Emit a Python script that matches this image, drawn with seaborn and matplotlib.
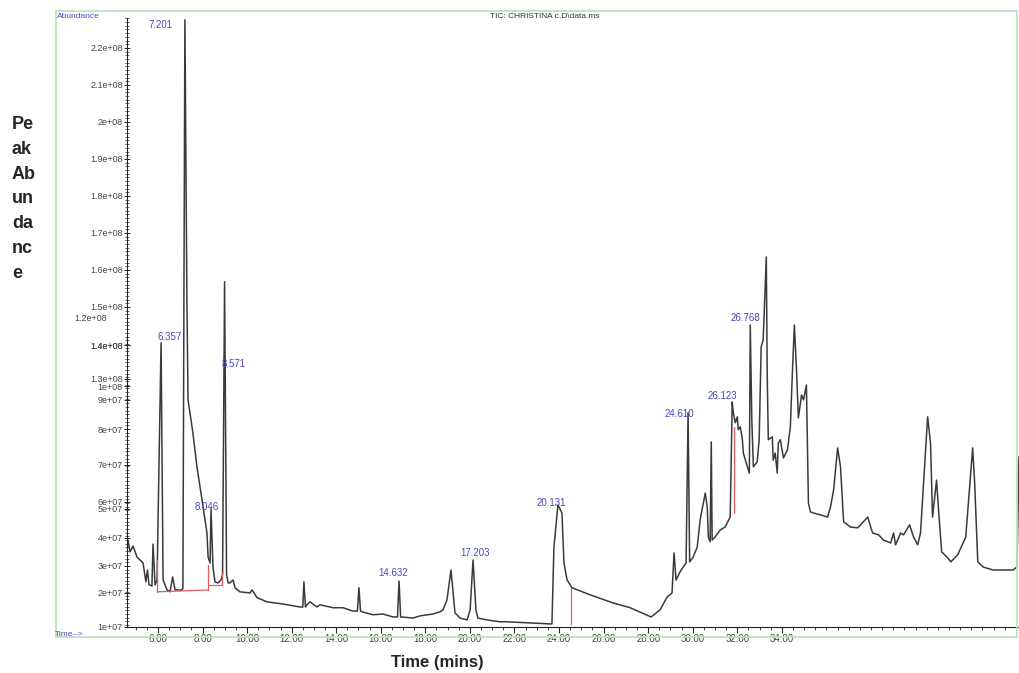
import numpy as np
import pandas as pd
import matplotlib
matplotlib.use("Agg")
import matplotlib.pyplot as plt
from matplotlib.patches import Rectangle
from matplotlib.ticker import MultipleLocator
import seaborn as sns


# ================================
# DATA
# ================================

# retention time (min) and abundance (x 1e7, in the scale of the upper tick labels)
time_min = [
    4.65, 4.75, 4.88, 5.06, 5.33, 5.46, 5.53, 5.60, 5.73, 5.78, 5.87, 5.96,
    6.14, 6.23, 6.41, 6.54, 6.66, 6.77, 7.08, 7.12, 7.21, 7.30, 7.35, 7.57,
    7.75, 7.98, 8.20, 8.25, 8.34, 8.38, 8.47, 8.56, 8.69, 8.83, 8.90, 8.99,
    9.08, 9.15, 9.23, 9.37, 9.46, 9.68, 10.13, 10.22, 10.45, 10.89, 11.61,
    12.37, 12.50, 12.55, 12.62, 12.69, 12.82, 13.14, 13.27, 13.86, 14.30,
    14.75, 14.95, 15.02, 15.09, 15.16, 15.65, 16.10, 16.55, 16.75, 16.82,
    16.89, 16.95, 17.45, 17.76, 18.34, 18.66, 18.79, 18.97, 19.15, 19.33,
    19.56, 19.87, 20.01, 20.14, 20.27, 20.36, 20.77, 21.35, 21.66, 22.69,
    23.68, 23.77, 23.95, 24.13, 24.22, 24.36, 24.58, 25.39, 26.42, 27.19,
    28.13, 28.53, 28.85, 29.07, 29.16, 29.25, 29.43, 29.57, 29.70, 29.79,
    29.86, 30.02, 30.20, 30.33, 30.56, 30.65, 30.70, 30.78, 30.83, 30.87,
    31.00, 31.23, 31.45, 31.68, 31.77, 31.82, 31.91, 32.00, 32.04, 32.13,
    32.22, 32.27, 32.45, 32.54, 32.58, 32.65, 32.72, 32.89, 32.98, 33.07,
    33.16, 33.30, 33.34, 33.39, 33.57, 33.61, 33.70, 33.79, 33.84, 33.93,
    34.07, 34.25, 34.38, 34.47, 34.56, 34.65, 34.74, 34.88, 34.97, 35.10,
    35.19, 35.28, 35.42, 35.73, 36.05, 36.18, 36.32, 36.50, 36.63, 36.77,
    37.08, 37.40, 37.53, 37.85, 38.07, 38.34, 38.56, 38.88, 39.01, 39.10,
    39.33, 39.46, 39.73, 39.91, 40.09, 40.22, 40.54, 40.67, 40.76, 40.94,
    41.03, 41.17, 41.44, 41.58, 41.89, 42.25, 42.56, 42.65, 42.79, 43.03,
    43.48, 44.37, 44.55, 44.64
]

abundance_e7 = [
    8.70, 8.38, 8.54, 8.24, 8.08, 7.57, 7.89, 7.49, 7.46, 8.59, 7.49, 7.62,
    14.03, 7.62, 7.35, 7.30, 7.70, 7.35, 7.35, 7.40, 22.76, 15.19, 12.49, 11.59,
    10.68, 9.78, 8.89, 8.24, 8.08, 9.54, 7.97, 7.57, 7.54, 7.62, 7.76, 15.68,
    7.76, 7.54, 7.54, 7.62, 7.41, 7.30, 7.27, 7.35, 7.14, 7.03, 6.97,
    6.89, 6.89, 7.57, 6.89, 6.95, 7.03, 6.89, 6.95, 6.87, 6.87,
    6.78, 6.78, 7.41, 6.78, 6.76, 6.68, 6.70, 6.62, 6.62, 7.59,
    6.62, 6.62, 6.59, 6.65, 6.70, 6.76, 6.81, 7.08, 7.89, 6.73,
    6.59, 6.54, 6.81, 8.16, 6.81, 6.59, 6.54, 6.49, 6.49, 6.46,
    6.43, 8.51, 9.65, 9.43, 8.08, 7.62, 7.41, 7.22, 7.00, 6.87,
    6.62, 6.81, 7.16, 7.27, 8.35, 7.62, 7.84, 7.97, 8.08, 12.14,
    8.11, 8.24, 8.51, 9.24, 9.97, 9.59, 8.78, 8.65, 11.35, 8.70,
    8.78, 8.97, 9.05, 9.32, 12.43, 12.14, 11.87, 12.03, 11.68, 11.76,
    11.46, 11.05, 10.68, 10.51, 14.51, 11.95, 10.68, 10.81, 11.41, 13.92,
    14.11, 16.35, 13.22, 11.41, 11.49, 10.86, 11.05, 10.51, 11.32, 11.41,
    10.92, 11.14, 11.76, 13.22, 14.51, 13.38, 12.00, 12.62, 12.49, 12.89,
    9.70, 9.46, 9.43, 9.38, 9.32, 9.59, 10.05, 11.19, 10.68, 9.19,
    9.05, 9.03, 9.11, 9.32, 8.89, 8.84, 8.70, 8.62, 8.89, 8.57,
    8.89, 8.84, 9.11, 8.78, 8.57, 8.89, 12.03, 11.32, 9.32, 10.32,
    9.51, 8.38, 8.22, 8.11, 8.30, 8.78, 11.19, 10.24, 8.11, 7.97,
    7.89, 7.89, 7.97, 10.95
]

# peak annotations
peak_names = ["7.201", "6.357", "8.571", "8.046", "14.632",
              "17.203", "20.131", "24.610", "26.123", "26.768"]
peak_time = [6.10, 6.54, 9.41, 8.20, 16.55, 20.23, 23.64, 29.39, 31.32, 32.36]
peak_level = [22.62, 14.19, 13.46, 9.59, 7.81, 8.35, 9.70, 12.11, 12.59, 14.70]

# integration baseline marks (red)
base_t0 = [5.96, 5.96, 8.25, 8.29, 8.88, 24.54, 31.86]
base_t1 = [5.96, 8.25, 8.25, 8.88, 8.88, 24.54, 31.86]
base_v0 = [8.16, 7.30, 8.03, 7.49, 7.81, 7.41, 11.76]
base_v1 = [7.30, 7.35, 7.35, 7.49, 7.49, 6.43, 9.43]

# axis ticks
xtick_values = [6, 8, 10, 12, 14, 16, 18, 20, 22, 24, 26, 28, 30, 32, 34]
xtick_labels = ["6.00", "8.00", "10.00", "12.00", "14.00", "16.00", "18.00",
                "20.00", "22.00", "24.00", "26.00", "28.00", "30.00",
                "32.00", "34.00"]

ytick_values = [22, 21, 20, 19, 18, 17, 16, 15, 13.97, 13.97, 13.06, 12.86,
                12.49, 11.70, 10.73, 9.73, 9.54, 8.76, 8.0, 7.27, 6.35]
ytick_labels = ["2.2e+08", "2.1e+08", "2e+08", "1.9e+08", "1.8e+08",
                "1.7e+08", "1.6e+08", "1.5e+08", "1.1e+08", "1.4e+08",
                "1.3e+08", "1e+08", "9e+07", "8e+07", "7e+07", "6e+07",
                "5e+07", "4e+07", "3e+07", "2e+07", "1e+07"]


# ================================
# STYLE
# ================================

sns.set_style("white")
plt.rcParams["font.family"] = ["Liberation Sans", "DejaVu Sans"]

BLUE = "#4646c4"
TRACE = "#3a3a3a"
RED = "#e35a5a"
FRAME = "#bfe2bf"


# ================================
# PLOT
# ================================

fig = plt.figure(figsize=(10.19, 6.73), dpi=100)

ax = fig.add_axes([0.1246, 0.0684, 0.8754, 0.9049])

df = pd.DataFrame({"time": time_min, "abundance": abundance_e7})

sns.lineplot(
    data=df,
    x="time",
    y="abundance",
    sort=False,
    estimator=None,
    color=TRACE,
    linewidth=1.1,
    ax=ax
)

for t0, t1, v0, v1 in zip(base_t0, base_t1, base_v0, base_v1):
    ax.plot([t0, t1], [v0, v1], color=RED, linewidth=0.9)

for name, t, v in zip(peak_names, peak_time, peak_level):
    ax.text(t, v, name, color=BLUE, fontsize=7, ha="center", va="center")

ax.set_xlim(4.61, 44.64)
ax.set_ylim(6.35, 22.81)

ax.set_xlabel("")
ax.set_ylabel("")

for side in ["top", "right"]:
    ax.spines[side].set_visible(False)

for side in ["left", "bottom"]:
    ax.spines[side].set_color("#222222")
    ax.spines[side].set_linewidth(0.8)

ax.set_xticks(xtick_values, labels=xtick_labels)
ax.xaxis.set_minor_locator(MultipleLocator(0.5))

ax.set_yticks(ytick_values, labels=ytick_labels)
ax.yaxis.set_minor_locator(MultipleLocator(0.1))

ax.tick_params(axis="x", which="major", bottom=True, direction="out",
               length=4, width=0.8, labelsize=7, labelcolor="#444444",
               pad=1)
ax.tick_params(axis="x", which="minor", bottom=True, direction="out",
               length=2, width=0.6)
ax.tick_params(axis="y", which="major", left=True, direction="inout",
               length=4, width=0.7, labelsize=6.5, labelcolor="#444444",
               pad=1)
ax.tick_params(axis="y", which="minor", left=True, direction="inout",
               length=2.5, width=0.5)

# stray label left of the axis
ax.text(-0.022, 14.70, "1.2e+08", transform=ax.get_yaxis_transform(),
        ha="right", va="center", fontsize=6.5, color="#444444")


# ================================
# FRAME AND TEXTS
# ================================

fig.add_artist(Rectangle(
    (0.055, 0.0535), 0.9431, 0.9302,
    transform=fig.transFigure,
    fill=False,
    edgecolor=FRAME,
    linewidth=1.3
))

fig.text(0.056, 1 - 17 / 673, "Abundance", color=BLUE, fontsize=6,
         va="center")

fig.text(0.054, 1 - 635 / 673, "Time-->", color=BLUE, fontsize=6,
         va="center")

fig.text(545 / 1019, 1 - 17 / 673, r"TIC: CHRISTINA c.D\data.ms",
         color="#333333", fontsize=6, ha="center", va="center")

fig.text(12 / 1019, 1 - 116 / 673, "Pe\nak\nAb\nun\nda\nnc\ne",
         fontsize=13, fontweight="bold", va="top", linespacing=1.6)

fig.text(437 / 1019, 1 - 662 / 673, "Time (mins)", fontsize=12,
         fontweight="bold", ha="center", va="center")

fig.savefig("out.png", dpi=100)
plt.close(fig)
